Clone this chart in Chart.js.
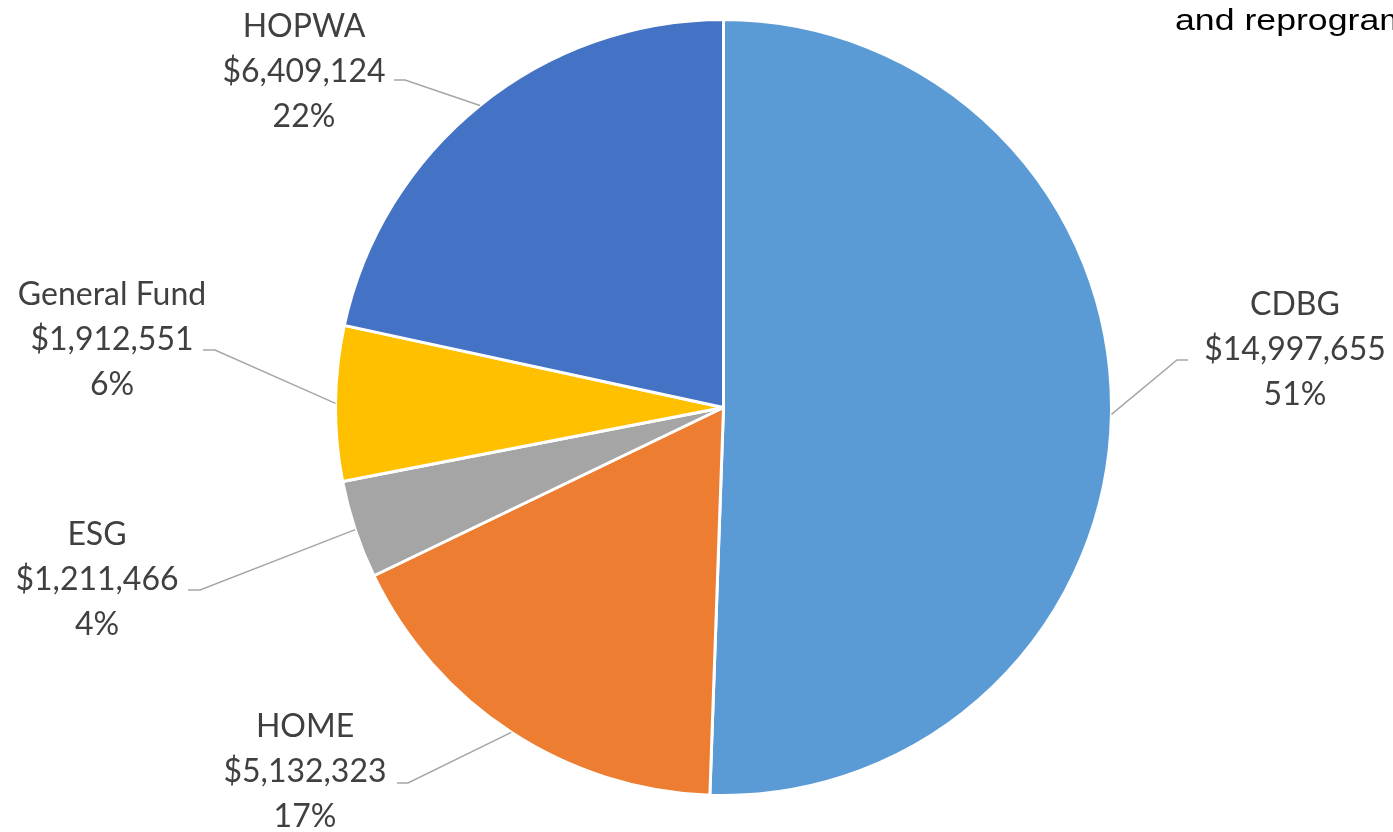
<!DOCTYPE html>
<html>
<head>
<meta charset="utf-8">
<script src="https://cdn.jsdelivr.net/npm/chart.js@4.4.1/dist/chart.umd.min.js"></script>
<style>
  html, body { margin: 0; padding: 0; background: #ffffff; }
  #wrap { width: 1393px; height: 832px; position: relative; }
</style>
</head>
<body>
<div id="wrap"><canvas id="c" width="1393" height="832"></canvas></div>
<script>
// ---- data ----
const categories = ["CDBG", "HOME", "ESG", "General Fund", "HOPWA"];
const amounts = [14997655, 5132323, 1211466, 1912551, 6409124];
const percentLabels = ["51%", "17%", "4%", "6%", "22%"];
const colors = ["#5B9BD5", "#ED7D31", "#A5A5A5", "#FFC000", "#4472C4"];
const titleFragment = "and reprogram";

// ---- label layout (text centre x, middle-line baseline, leader start/elbow) ----
const labelLayout = [
  { cx: 1295, base: 360, start: [1188, 360], elbow: [1177, 360] },
  { cx: 305,  base: 782, start: [397, 783],  elbow: [408, 783] },
  { cx: 97,   base: 590, start: [188, 590],  elbow: [200, 590] },
  { cx: 112,  base: 350, start: [203, 350],  elbow: [215, 350] },
  { cx: 304,  base: 82,  start: [394, 80],   elbow: [405, 80] }
];

function fmtMoney(v) {
  return "$" + v.toString().replace(/\B(?=(\d{3})+(?!\d))/g, ",");
}

const labelPlugin = {
  id: "pieLabels",
  afterDatasetsDraw(chart) {
    const ctx = chart.ctx;
    const meta = chart.getDatasetMeta(0);
    ctx.save();
    meta.data.forEach((arc, i) => {
      const L = labelLayout[i];
      const mid = (arc.startAngle + arc.endAngle) / 2;
      const ex = arc.x + Math.cos(mid) * arc.outerRadius;
      const ey = arc.y + Math.sin(mid) * arc.outerRadius;
      ctx.strokeStyle = "#A6A6A6";
      ctx.lineWidth = 1.5;
      ctx.beginPath();
      ctx.moveTo(L.start[0], L.start[1]);
      ctx.lineTo(L.elbow[0], L.elbow[1]);
      ctx.lineTo(ex, ey);
      ctx.stroke();

      ctx.fillStyle = "#404040";
      ctx.font = "32px Lato";
      ctx.textAlign = "center";
      ctx.textBaseline = "alphabetic";
      const lines = [categories[i], fmtMoney(amounts[i]), percentLabels[i]];
      const gap = 45;
      lines.forEach((t, k) => {
        ctx.fillText(t, L.cx, L.base + (k - 1) * gap);
      });
    });
    // partial title at top right
    ctx.fillStyle = "#000000";
    ctx.font = "29px 'Liberation Sans', Arial";
    ctx.textAlign = "left";
    ctx.textBaseline = "alphabetic";
    ctx.save();
    ctx.translate(1175, 30);
    ctx.scale(1.23, 1);
    ctx.fillText(titleFragment, 0, 0);
    ctx.restore();
    ctx.restore();
  }
};

new Chart(document.getElementById("c"), {
  type: "pie",
  data: {
    labels: categories,
    datasets: [{
      data: amounts,
      backgroundColor: colors,
      borderColor: "#ffffff",
      borderWidth: 3
    }]
  },
  options: {
    responsive: false,
    animation: false,
    layout: { padding: { top: 18, bottom: 35, left: 334, right: 280 } },
    plugins: {
      legend: { display: false },
      tooltip: { enabled: false },
      title: { display: false }
    }
  },
  plugins: [labelPlugin]
});
</script>
</body>
</html>
